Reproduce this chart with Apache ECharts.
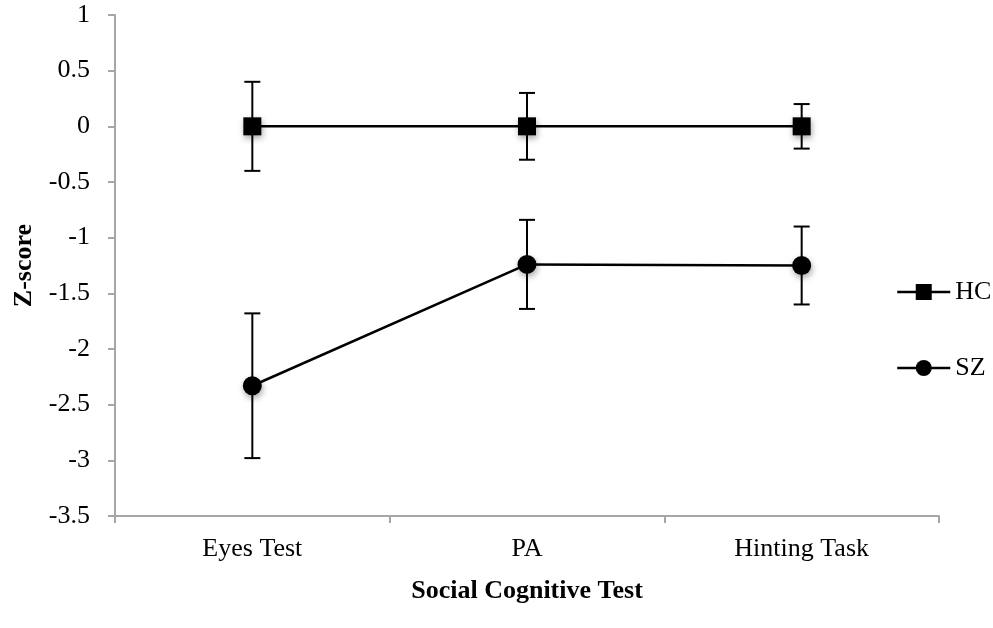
<!DOCTYPE html>
<html>
<head>
<meta charset="utf-8">
<script src="https://cdn.jsdelivr.net/npm/echarts@6/dist/echarts.min.js"></script>
<style>
html,body{margin:0;padding:0;background:#fff;}
#chart{width:993px;height:628px;}
</style>
</head>
<body>
<div id="chart"></div>
<script>
var categories = ['Eyes Test', 'PA', 'Hinting Task'];
var hcValues = [0, 0, 0];
var hcErrors = [0.4, 0.3, 0.2];
var szValues = [-2.33, -1.24, -1.25];
var szErrors = [0.65, 0.40, 0.35];
var yTickMin = -3.5, yTickMax = 1, yTickStep = 0.5;

var FONT = '"Liberation Serif", "Times New Roman", serif';

function errData(vals, errs) {
  return vals.map(function (v, i) { return [i, v - errs[i], v + errs[i]]; });
}

function renderErr(params, api) {
  var x = api.value(0);
  var lo = api.coord([x, api.value(1)]);
  var hi = api.coord([x, api.value(2)]);
  var cap = 8;
  var style = { stroke: '#000', lineWidth: 2 };
  return {
    type: 'group',
    children: [
      { type: 'line', shape: { x1: lo[0], y1: lo[1], x2: hi[0], y2: hi[1] }, style: style },
      { type: 'line', shape: { x1: lo[0] - cap, y1: lo[1], x2: lo[0] + cap, y2: lo[1] }, style: style },
      { type: 'line', shape: { x1: hi[0] - cap, y1: hi[1], x2: hi[0] + cap, y2: hi[1] }, style: style }
    ]
  };
}

var shadow = { shadowBlur: 6, shadowColor: 'rgba(0,0,0,0.35)', shadowOffsetX: 1, shadowOffsetY: 3 };

var chart = echarts.init(document.getElementById('chart'), null, { renderer: 'canvas' });
chart.setOption({
  animation: false,
  backgroundColor: '#fff',
  grid: { left: 115, right: 54, top: 15, bottom: 112, containLabel: false },
  legend: {
    data: ['HC', 'SZ'],
    orient: 'vertical',
    left: 891,
    top: 274,
    itemWidth: 53,
    itemHeight: 20,
    itemGap: 50,
    lineStyle: { width: 2.5, color: '#000' },
    textStyle: { fontFamily: FONT, fontSize: 26, color: '#000' }
  },
  xAxis: {
    type: 'category',
    data: categories,
    boundaryGap: true,
    name: 'Social Cognitive Test',
    nameLocation: 'middle',
    nameGap: 62,
    nameTextStyle: { fontFamily: FONT, fontSize: 26, fontWeight: 'bold', color: '#000' },
    axisLine: { onZero: false, lineStyle: { color: '#a6a6a6', width: 2 } },
    axisTick: { show: true, length: 7, lineStyle: { color: '#a6a6a6', width: 2 } },
    axisLabel: { fontFamily: FONT, fontSize: 26, color: '#000', margin: 20 },
    splitLine: { show: false }
  },
  yAxis: {
    type: 'value',
    min: yTickMin,
    max: yTickMax,
    interval: yTickStep,
    name: 'Z-score',
    nameLocation: 'middle',
    nameRotate: 90,
    nameGap: 78,
    nameTextStyle: { fontFamily: FONT, fontSize: 26, fontWeight: 'bold', color: '#000' },
    axisLine: { show: true, onZero: false, lineStyle: { color: '#a6a6a6', width: 2 } },
    axisTick: { show: true, length: 7, lineStyle: { color: '#a6a6a6', width: 2 } },
    axisLabel: { fontFamily: FONT, fontSize: 26, color: '#000', margin: 25 },
    splitLine: { show: false }
  },
  series: [
    {
      name: 'HC-err', type: 'custom', z: 1,
      renderItem: renderErr,
      encode: { x: 0, y: [1, 2] },
      data: errData(hcValues, hcErrors)
    },
    {
      name: 'SZ-err', type: 'custom', z: 1,
      renderItem: renderErr,
      encode: { x: 0, y: [1, 2] },
      data: errData(szValues, szErrors)
    },
    {
      name: 'HC', type: 'line', z: 3,
      data: hcValues,
      symbol: 'rect', symbolSize: 18,
      lineStyle: { color: '#000', width: 2.5 },
      itemStyle: Object.assign({ color: '#000' }, shadow)
    },
    {
      name: 'SZ', type: 'line', z: 3,
      data: szValues,
      symbol: 'circle', symbolSize: 19,
      lineStyle: { color: '#000', width: 2.5 },
      itemStyle: Object.assign({ color: '#000' }, shadow)
    }
  ]
});
</script>
</body>
</html>
